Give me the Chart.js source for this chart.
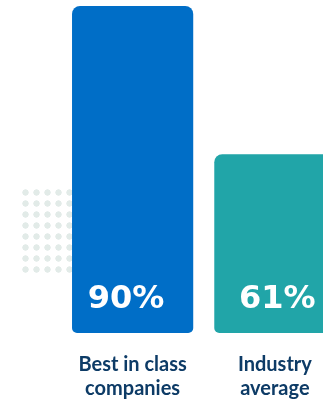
<!DOCTYPE html>
<html>
<head>
<meta charset="utf-8">
<script src="https://cdn.jsdelivr.net/npm/chart.js@4.4.1/dist/chart.umd.min.js"></script>
<style>
  html, body { margin: 0; padding: 0; background: #ffffff; overflow: hidden; width: 323px; height: 401px; }
  #wrap { position: relative; width: 346px; height: 401px; }
  #dots {
    position: absolute; left: 20px; top: 187px; width: 56px; height: 89px;
    background-image: radial-gradient(circle, #e2ebe8 2.9px, rgba(226,235,232,0) 3.4px);
    background-size: 11px 11px; background-position: 0 0;
    z-index: 0;
  }
  canvas { position: absolute; left: 0; top: 0; z-index: 1; }
</style>
</head>
<body>
<div id="wrap">
  <div id="dots"></div>
  <canvas id="c" width="346" height="401"></canvas>
</div>
<script>
const categories = [["Best in class", "companies"], ["Industry", "average"]];
const values = [90, 61];
const valueLabels = ["90%", "61%"];
const barColors = ["#006ec7", "#21a5a8"];
const axisMin = 26;
const axisMax = 90;

const valueLabelPlugin = {
  id: 'valueLabels',
  afterDatasetsDraw(chart, args, opts) {
    const ctx = chart.ctx;
    const meta = chart.getDatasetMeta(0);
    ctx.save();
    ctx.fillStyle = '#ffffff';
    ctx.font = 'bold 32px "DejaVu Sans"';
    ctx.textAlign = 'center';
    ctx.textBaseline = 'alphabetic';
    meta.data.forEach((bar, i) => {
      const p = bar.getProps(['x', 'base'], true);
      const dx = (opts.nudge && opts.nudge[i]) || 0;
      ctx.fillText(valueLabels[i], p.x + dx, p.base - 25);
    });
    ctx.restore();
  }
};

new Chart(document.getElementById('c'), {
  type: 'bar',
  data: {
    labels: categories,
    datasets: [{
      data: values,
      base: axisMin,
      backgroundColor: barColors,
      borderRadius: { topLeft: 8, topRight: 8, bottomLeft: 5, bottomRight: 5 },
      borderSkipped: false,
      barPercentage: 0.852,
      categoryPercentage: 1.0
    }]
  },
  options: {
    responsive: false,
    animation: false,
    layout: { padding: { left: 61.5, right: 0, top: 6, bottom: 0 } },
    plugins: {
      legend: { display: false },
      tooltip: { enabled: false },
      valueLabels: { nudge: [-6.5, 2.5] }
    },
    scales: {
      x: {
        grid: { display: false, drawTicks: false },
        border: { display: false },
        afterFit(scale) { scale.height = 68; },
        ticks: {
          color: '#0d3b66',
          font: { family: 'Lato', weight: 'bold', size: 20, lineHeight: 1.22 },
          padding: 19,
          maxRotation: 0,
          autoSkip: false
        }
      },
      y: {
        display: false,
        min: axisMin,
        max: axisMax
      }
    }
  },
  plugins: [valueLabelPlugin]
});
</script>
</body>
</html>
